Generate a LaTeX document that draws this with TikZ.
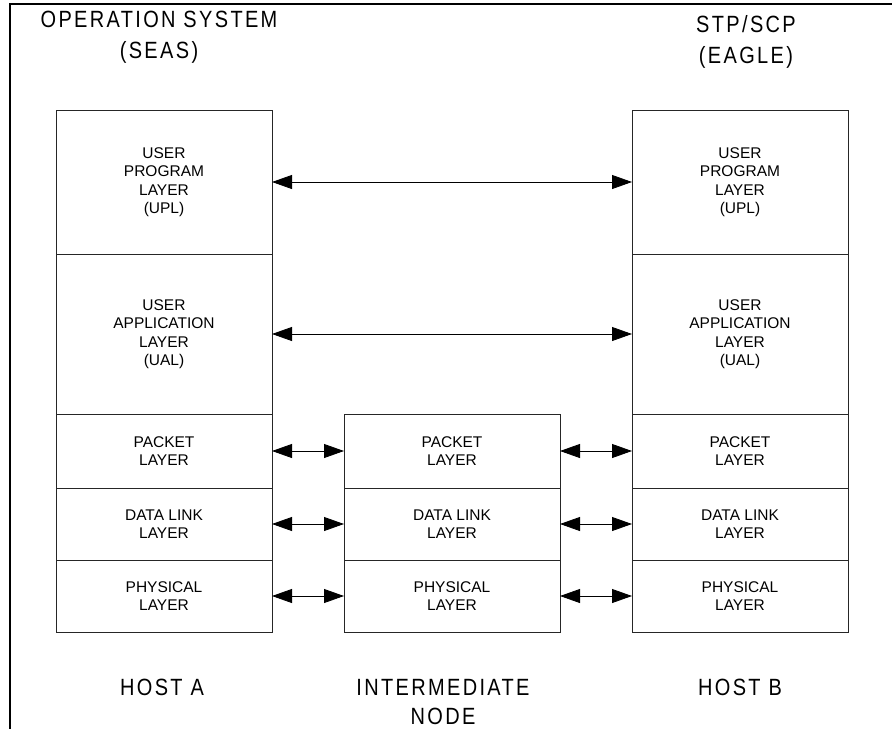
\documentclass[tikz,border=0pt]{standalone}
\usepackage{fontspec}
\setmainfont{Liberation Sans}
\newfontfamily\headfont[LetterSpace=10,FakeStretch=0.85]{Liberation Sans}
\usetikzlibrary{arrows.meta}
\tikzset{
  layerbox/.style={draw=black!85, line width=1pt, anchor=north west, inner sep=0pt, outer sep=0pt,
    minimum width=216pt, align=center, font=\fontsize{15.5}{18.5}\selectfont},
  head/.style={align=center, font=\headfont\fontsize{23.5}{31.5}\selectfont},
  foot/.style={align=center, font=\headfont\fontsize{23.5}{29}\selectfont},
  link/.style={line width=0.8pt, {Triangle[length=20pt,width=14pt]}-{Triangle[length=20pt,width=14pt]}},
  frame/.style={line width=2pt}
}
\begin{document}
\begin{tikzpicture}[x=1pt,y=-1pt]
\useasboundingbox (0,0) rectangle (892,729);
\coordinate (ftl) at (10,4);
\coordinate (ftr) at (892,4);
\coordinate (fbl) at (10,729);
\draw[frame] (ftr) -- (ftl) -- (fbl);

\node[head] (hA) at (159,37) {OPERATION SYSTEM\\(SEAS)};
\node[head] (hB) at (746,42) {STP/SCP\\(EAGLE)};

% Host A
\node[layerbox, minimum height=144pt] (aupl) at (56,110) {USER\\PROGRAM\\LAYER\\(UPL)};
\node[layerbox, minimum height=160pt] (aual) at (56,254) {USER\\APPLICATION\\LAYER\\(UAL)};
\node[layerbox, minimum height=74pt] (apkt) at (56,414) {PACKET\\LAYER};
\node[layerbox, minimum height=72pt] (adl) at (56,488) {DATA LINK\\LAYER};
\node[layerbox, minimum height=72pt] (aphy) at (56,560) {PHYSICAL\\LAYER};

% Intermediate
\node[layerbox, minimum height=74pt] (mpkt) at (344,414) {PACKET\\LAYER};
\node[layerbox, minimum height=72pt] (mdl) at (344,488) {DATA LINK\\LAYER};
\node[layerbox, minimum height=72pt] (mphy) at (344,560) {PHYSICAL\\LAYER};

% Host B
\node[layerbox, minimum height=144pt] (bupl) at (632,110) {USER\\PROGRAM\\LAYER\\(UPL)};
\node[layerbox, minimum height=160pt] (bual) at (632,254) {USER\\APPLICATION\\LAYER\\(UAL)};
\node[layerbox, minimum height=74pt] (bpkt) at (632,414) {PACKET\\LAYER};
\node[layerbox, minimum height=72pt] (bdl) at (632,488) {DATA LINK\\LAYER};
\node[layerbox, minimum height=72pt] (bphy) at (632,560) {PHYSICAL\\LAYER};

\draw[link] (aupl.east) -- (bupl.west);
\draw[link] (aual.east) -- (bual.west);
\draw[link] (apkt.east) -- (mpkt.west);
\draw[link] (adl.east) -- (mdl.west);
\draw[link] (aphy.east) -- (mphy.west);
\draw[link] (mpkt.east) -- (bpkt.west);
\draw[link] (mdl.east) -- (bdl.west);
\draw[link] (mphy.east) -- (bphy.west);

\node[foot] (fA) at (162,687) {HOST A};
\node[foot] (fM) at (443,702) {INTERMEDIATE\\NODE};
\node[foot] (fB) at (740,687) {HOST B};
\end{tikzpicture}
\end{document}
